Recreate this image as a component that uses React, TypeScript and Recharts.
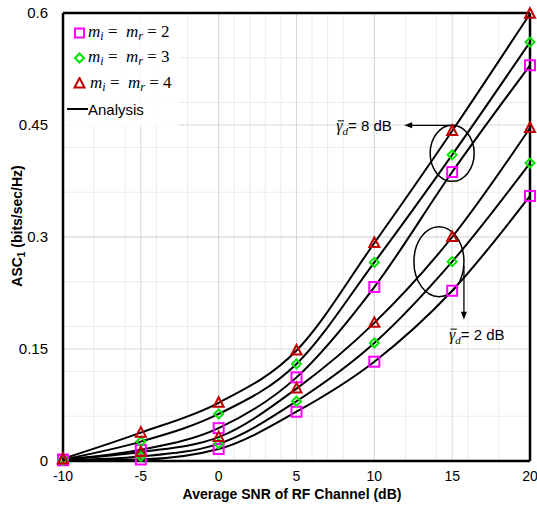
import React from 'react';
import {
  ComposedChart,
  Line,
  XAxis,
  YAxis,
  CartesianGrid,
  ReferenceLine,
  ReferenceDot,
  Legend,
} from 'recharts';

// average SNR of the RF channel (dB)
const snr = [-10, -5, 0, 5, 10, 15, 20];

// gamma_d = 8 dB
const asc8_m2 = [0.002, 0.015, 0.044, 0.112, 0.233, 0.387, 0.53];
const asc8_m3 = [0.002, 0.026, 0.063, 0.13, 0.266, 0.41, 0.561];
const asc8_m4 = [0.003, 0.038, 0.078, 0.148, 0.292, 0.442, 0.599];

// gamma_d = 2 dB
const asc2_m2 = [0.001, 0.002, 0.016, 0.066, 0.133, 0.228, 0.355];
const asc2_m3 = [0.001, 0.006, 0.023, 0.08, 0.158, 0.267, 0.399];
const asc2_m4 = [0.002, 0.012, 0.032, 0.097, 0.185, 0.3, 0.446];

const xTicks = [-10, -5, 0, 5, 10, 15, 20];
const yTicks = [0, 0.15, 0.3, 0.45, 0.6];

const data = snr.map((x, i) => ({
  snr: x,
  a8m2: asc8_m2[i],
  a8m3: asc8_m3[i],
  a8m4: asc8_m4[i],
  a2m2: asc2_m2[i],
  a2m3: asc2_m3[i],
  a2m4: asc2_m4[i],
}));

const minorX = Array.from({ length: 31 }, (_, i) => i - 10);
const minorY = Array.from({ length: 21 }, (_, i) => +(i * 0.03).toFixed(2));

const MAGENTA = '#ff00ff';
const GREEN = '#00e600';
const RED = '#c00000';
const SANS = 'Arial, "Liberation Sans", sans-serif';
const SERIF = '"Liberation Serif", "DejaVu Serif", serif';

const squareDot = (p: any) => (
  <rect key={p.key} x={p.cx - 5} y={p.cy - 5} width={10} height={10} fill="none" stroke={MAGENTA} strokeWidth={2} />
);
const diamondDot = (p: any) => (
  <polygon
    key={p.key}
    points={`${p.cx},${p.cy - 4.5} ${p.cx + 4.5},${p.cy} ${p.cx},${p.cy + 4.5} ${p.cx - 4.5},${p.cy}`}
    fill="none"
    stroke={GREEN}
    strokeWidth={2}
  />
);
const triangleDot = (p: any) => (
  <polygon
    key={p.key}
    points={`${p.cx},${p.cy - 5.5} ${p.cx + 5},${p.cy + 4} ${p.cx - 5},${p.cy + 4}`}
    fill="none"
    stroke={RED}
    strokeWidth={2}
  />
);

// gamma-bar with subscript d, drawn from its left edge
const GammaText = ({ x, y, db }: { x: number; y: number; db: number }) => (
  <g>
    <line x1={x + 1.5} y1={y - 10.5} x2={x + 8} y2={y - 10.5} stroke="#000" strokeWidth={1} />
    <text x={x} y={y} fontSize={15} fontFamily={SANS} fill="#000">
      <tspan fontFamily={SERIF} fontStyle="italic" fontSize={16}>γ</tspan>
      <tspan fontFamily={SERIF} fontStyle="italic" fontSize={11} dy={4}>d</tspan>
      <tspan dy={-4}>{`= ${db} dB`}</tspan>
    </text>
  </g>
);

const upperNote = (p: any) => {
  const { cx, cy } = p;
  return (
    <g>
      <ellipse cx={cx} cy={cy} rx={22} ry={28} fill="none" stroke="#000" strokeWidth={1.5} />
      <line x1={cx + 4} y1={cy - 28} x2={cx - 42} y2={cy - 28} stroke="#000" strokeWidth={1.3} />
      <polygon points={`${cx - 48},${cy - 28} ${cx - 40},${cy - 31} ${cx - 40},${cy - 25}`} fill="#000" />
      <GammaText x={cx - 116} y={cy - 22} db={8} />
    </g>
  );
};

const lowerNote = (p: any) => {
  const { cx, cy } = p;
  return (
    <g>
      <ellipse cx={cx} cy={cy} rx={25} ry={35} fill="none" stroke="#000" strokeWidth={1.5} />
      <line x1={cx + 25} y1={cy + 4} x2={cx + 25} y2={cy + 52} stroke="#000" strokeWidth={1.3} />
      <polygon points={`${cx + 25},${cy + 58} ${cx + 22},${cy + 50} ${cx + 28},${cy + 50}`} fill="#000" />
      <GammaText x={cx + 10} y={cy + 78} db={2} />
    </g>
  );
};

const mLabel = (n: number) => (
  <span style={{ fontFamily: SERIF, fontSize: 17, whiteSpace: 'nowrap', lineHeight: '17px' }}>
    <i>m</i>
    <i style={{ fontSize: 12, position: 'relative', top: 3 }}>i</i> = &nbsp;<i>m</i>
    <i style={{ fontSize: 12, position: 'relative', top: 3 }}>r</i> = {n}
  </span>
);

const LegendBox = () => (
  <div style={{ background: 'rgba(255,255,255,0.85)', padding: '5px 0 4px 2px', width: 112 }}>
    <div style={{ display: 'flex', alignItems: 'center', height: 25, paddingLeft: 6 }}>
      <svg width={15} height={12}>
        <rect x={2} y={1.5} width={9} height={9} fill="none" stroke={MAGENTA} strokeWidth={2} />
      </svg>
      {mLabel(2)}
    </div>
    <div style={{ display: 'flex', alignItems: 'center', height: 25, paddingLeft: 6 }}>
      <svg width={15} height={12}>
        <polygon points="6.5,1.5 11,6 6.5,10.5 2,6" fill="none" stroke={GREEN} strokeWidth={2} />
      </svg>
      {mLabel(3)}
    </div>
    <div style={{ display: 'flex', alignItems: 'center', height: 26, paddingLeft: 6 }}>
      <svg width={16} height={12}>
        <polygon points="6.5,1 11.5,10.5 1.5,10.5" fill="none" stroke={RED} strokeWidth={2} />
      </svg>
      <span style={{ marginLeft: 1 }}>{mLabel(4)}</span>
    </div>
    <div style={{ display: 'flex', alignItems: 'center', height: 26 }}>
      <svg width={21} height={10}>
        <line x1={0} y1={5} x2={21} y2={5} stroke="#000" strokeWidth={2} />
      </svg>
      <span style={{ fontFamily: SANS, fontSize: 15, color: '#000' }}>Analysis</span>
    </div>
  </div>
);

const yLabel = () => (
  <text x={22} y={226} transform="rotate(-90 22 226)" textAnchor="middle" fontFamily={SANS} fontWeight="bold" fontSize={14} fill="#000">
    ASC<tspan fontSize={10} dy={3}>1</tspan>
    <tspan dy={-3}> (bits/sec/Hz)</tspan>
  </text>
);

const xLabel = () => (
  <text x={292} y={499} textAnchor="middle" fontFamily={SANS} fontWeight="bold" fontSize={14} fill="#000">
    Average SNR of RF Channel (dB)
  </text>
);

const fmtY = (v: number) => (v === 0 ? '0' : String(+v.toFixed(2)));

export default function App() {
  const series = [
    { key: 'a8m2', dot: squareDot },
    { key: 'a8m3', dot: diamondDot },
    { key: 'a8m4', dot: triangleDot },
    { key: 'a2m2', dot: squareDot },
    { key: 'a2m3', dot: diamondDot },
    { key: 'a2m4', dot: triangleDot },
  ];

  return (
    <div style={{ position: 'absolute', left: 0, top: 0, background: '#fff' }}>
      <ComposedChart width={537} height={506} data={data} margin={{ top: 13, right: 7, bottom: 0, left: 0 }}>
        <CartesianGrid stroke="#ececec" strokeWidth={1} verticalValues={minorX} horizontalValues={minorY} />
        <CartesianGrid stroke="#d6d6d6" strokeWidth={1} verticalValues={xTicks} horizontalValues={yTicks} />
        <XAxis
          dataKey="snr"
          type="number"
          domain={[-10, 20]}
          ticks={xTicks}
          tickLine={false}
          axisLine={{ stroke: '#000', strokeWidth: 2.5 }}
          tick={{ fill: '#000', fontSize: 14, fontFamily: SANS }}
          tickMargin={4}
          height={45}
          label={xLabel}
        />
        <YAxis
          type="number"
          domain={[0, 0.6]}
          ticks={yTicks}
          tickFormatter={fmtY}
          tickLine={false}
          axisLine={{ stroke: '#000', strokeWidth: 2.5 }}
          tick={{ fill: '#000', fontSize: 15, fontFamily: SANS }}
          tickMargin={9}
          width={63}
          label={yLabel}
        />
        <ReferenceLine y={0.6} stroke="#000" strokeWidth={2.5} />
        <ReferenceLine x={20} stroke="#000" strokeWidth={2.5} />
        {series.map((s) => (
          <Line
            key={`line-${s.key}`}
            dataKey={s.key}
            type="monotone"
            stroke="#000"
            strokeWidth={2}
            dot={false}
            activeDot={false}
            isAnimationActive={false}
            legendType="none"
          />
        ))}
        {series.map((s) => (
          <Line
            key={`mark-${s.key}`}
            dataKey={s.key}
            stroke="none"
            dot={s.dot}
            activeDot={false}
            isAnimationActive={false}
            legendType="none"
          />
        ))}
        <ReferenceDot x={15} y={0.412} r={0} shape={upperNote} />
        <ReferenceDot x={14.15} y={0.267} r={0} shape={lowerNote} />
        <Legend
          layout="vertical"
          align="center"
          verticalAlign="middle"
          content={<LegendBox />}
          wrapperStyle={{ left: 65, top: 15, width: 'auto', height: 'auto' }}
        />
      </ComposedChart>
    </div>
  );
}
